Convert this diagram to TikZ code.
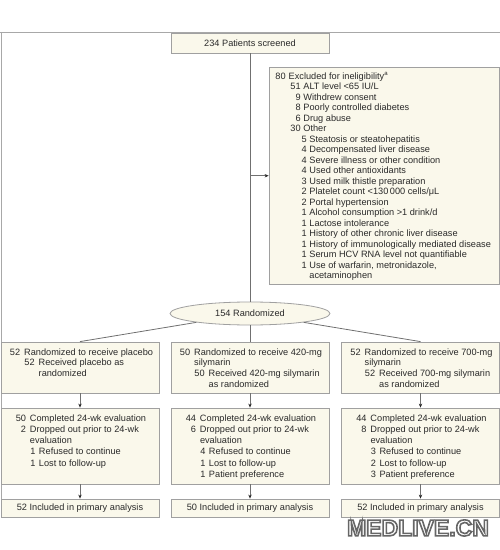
\documentclass[tikz,border=0pt]{standalone}
\usepackage{fontspec}
\setmainfont{Liberation Sans}
\usetikzlibrary{arrows.meta,shapes.geometric}
\definecolor{boxfill}{HTML}{FAF8EB}
\definecolor{boxline}{HTML}{A0A0A0}
\definecolor{frameline}{HTML}{A8A8A8}
\definecolor{conn}{HTML}{707070}
\definecolor{txt}{HTML}{2A2A2A}
\newcommand\Ln[4]{\hspace*{#1bp}\llap{#3}\hspace*{\dimexpr#2bp-#1bp\relax}#4\par}
\newcommand\Cont[2]{\hspace*{#1bp}#2\par}
\newcommand\Outl[1]{\special{pdf:literal direct 2 Tr 1.6 w 0.4 G}#1\special{pdf:literal direct 0 Tr}}
\tikzset{
  box/.style={draw=boxline, fill=boxfill, line width=0.8bp, inner sep=0pt},
  ctext/.style={text=txt, font=\fontsize{9.2bp}{11bp}\selectfont},
  blk/.style={anchor=base west, inner sep=0pt, text=txt, font=\fontsize{9.2bp}{#1bp}\selectfont},
  conline/.style={draw=conn, line width=0.8bp},
  arr/.style={conline, -{Stealth[length=4bp,width=3.4bp,color=black!85]}},
  wm/.style={inner sep=0pt, text=white, font=\fontsize{23bp}{23bp}\bfseries\selectfont}
}
\begin{document}
\begin{tikzpicture}[x=1bp,y=-1bp]
\useasboundingbox (0,0) rectangle (500,550);
% frame lines
\coordinate (fl0) at (0,33);
\coordinate (fl1) at (500,33);
\coordinate (fl2) at (1,33);
\coordinate (fl3) at (1,517.5);
\draw[frameline, line width=1bp] (fl0) -- (fl1);
\draw[frameline, line width=1bp] (fl2) -- (fl3);
% screened
\node[box, minimum width=158bp, minimum height=20bp, ctext] (top) at (250,43) {234 Patients screened};
% exclusion box
\node[box, minimum width=230bp, minimum height=217.5bp] (excl) at (384,175.75) {};
\node[blk=10.5] (excltxt) at (269,79.3) {\parbox[t]{228bp}{%
\Ln{16.5}{19.5}{80}{Excluded for ineligibility\textsuperscript{\fontsize{6bp}{6bp}\selectfont a}}
\Ln{31.5}{34.2}{51}{ALT level <65 IU/L}
\Ln{31.5}{34.2}{9}{Withdrew consent}
\Ln{31.5}{34.2}{8}{Poorly controlled diabetes}
\Ln{31.5}{34.2}{6}{Drug abuse}
\Ln{31.5}{34.2}{30}{Other}
\Ln{37.5}{40.2}{5}{Steatosis or steatohepatitis}
\Ln{37.5}{40.2}{4}{Decompensated liver disease}
\Ln{37.5}{40.2}{4}{Severe illness or other condition}
\Ln{37.5}{40.2}{4}{Used other antioxidants}
\Ln{37.5}{40.2}{3}{Used milk thistle preparation}
\Ln{37.5}{40.2}{2}{Platelet count <130\,000 cells/μL}
\Ln{37.5}{40.2}{2}{Portal hypertension}
\Ln{37.5}{40.2}{1}{Alcohol consumption >1 drink/d}
\Ln{37.5}{40.2}{1}{Lactose intolerance}
\Ln{37.5}{40.2}{1}{History of other chronic liver disease}
\Ln{37.5}{40.2}{1}{History of immunologically mediated disease}
\Ln{37.5}{40.2}{1}{Serum HCV RNA level not quantifiable}
\Ln{37.5}{40.2}{1}{Use of warfarin, metronidazole,}
\Cont{40.2}{acetaminophen}}};
% randomized
\node[box, ellipse, minimum width=160bp, minimum height=23bp, ctext] (rand) at (250,313.5) {154 Randomized};
% row 1
\node[box, minimum width=158bp, minimum height=51bp] (b1) at (80,367.5) {};
\node[box, minimum width=158bp, minimum height=51bp] (b2) at (250,367.5) {};
\node[box, minimum width=158bp, minimum height=51bp] (b3) at (420.5,367.5) {};
\node[blk=10.8] (b1t) at (1,355) {\parbox[t]{156bp}{%
\Ln{19}{23}{52}{Randomized to receive placebo}
\Ln{33.5}{37.5}{52}{Received placebo as}
\Cont{37.5}{randomized}}};
\node[blk=10.8] (b2t) at (171,355) {\parbox[t]{156bp}{%
\Ln{19}{23}{50}{Randomized to receive 420-mg}
\Cont{23}{silymarin}
\Ln{33.5}{37.5}{50}{Received 420-mg silymarin}
\Cont{37.5}{as randomized}}};
\node[blk=10.8] (b3t) at (341.5,355) {\parbox[t]{156bp}{%
\Ln{19}{23}{52}{Randomized to receive 700-mg}
\Cont{23}{silymarin}
\Ln{33.5}{37.5}{52}{Received 700-mg silymarin}
\Cont{37.5}{as randomized}}};
% row 2
\node[box, minimum width=158bp, minimum height=76bp] (c1) at (80,446) {};
\node[box, minimum width=158bp, minimum height=76bp] (c2) at (250,446) {};
\node[box, minimum width=158bp, minimum height=76bp] (c3) at (420.5,446) {};
\node[blk=11.3] (c1t) at (1,421) {\parbox[t]{156bp}{%
\Ln{24.8}{28.8}{50}{Completed 24-wk evaluation}
\Ln{24.8}{28.8}{2}{Dropped out prior to 24-wk}
\Cont{28.8}{evaluation}
\Ln{34.2}{37.8}{1}{Refused to continue}
\Ln{34.2}{37.8}{1}{Lost to follow-up}}};
\node[blk=11.3] (c2t) at (171,421) {\parbox[t]{156bp}{%
\Ln{24.8}{28.8}{44}{Completed 24-wk evaluation}
\Ln{24.8}{28.8}{6}{Dropped out prior to 24-wk}
\Cont{28.8}{evaluation}
\Ln{34.2}{37.8}{4}{Refused to continue}
\Ln{34.2}{37.8}{1}{Lost to follow-up}
\Ln{34.2}{37.8}{1}{Patient preference}}};
\node[blk=11.3] (c3t) at (341.5,421) {\parbox[t]{156bp}{%
\Ln{24.8}{28.8}{44}{Completed 24-wk evaluation}
\Ln{24.8}{28.8}{8}{Dropped out prior to 24-wk}
\Cont{28.8}{evaluation}
\Ln{34.2}{37.8}{3}{Refused to continue}
\Ln{34.2}{37.8}{2}{Lost to follow-up}
\Ln{34.2}{37.8}{3}{Patient preference}}};
% row 3
\node[box, minimum width=158bp, minimum height=18bp, ctext] (d1) at (80,508) {52 Included in primary analysis};
\node[box, minimum width=158bp, minimum height=18bp, ctext] (d2) at (250,508) {50 Included in primary analysis};
\node[box, minimum width=158bp, minimum height=18bp, ctext] (d3) at (420.5,508) {52 Included in primary analysis};
% connectors
\coordinate (j) at (top.south |- excl.west);
\draw[conline] (top.south) -- (rand.north);
\draw[arr] (j) -- (excl.west);
\draw[conline] (rand) -- (b1.north);
\draw[conline] (rand.south) -- (b2.north);
\draw[conline] (rand) -- (b3.north);
\draw[arr] (b1.south) -- (c1.north);
\draw[arr] (b2.south) -- (c2.north);
\draw[arr] (b3.south) -- (c3.north);
\draw[arr] (c1.south) -- (d1.north);
\draw[arr] (c2.south) -- (d2.north);
\draw[arr] (c3.south) -- (d3.north);
% watermark
\node[wm] (wm) at (418,528) {\Outl{MEDLIVE.CN}};
\end{tikzpicture}
\end{document}
